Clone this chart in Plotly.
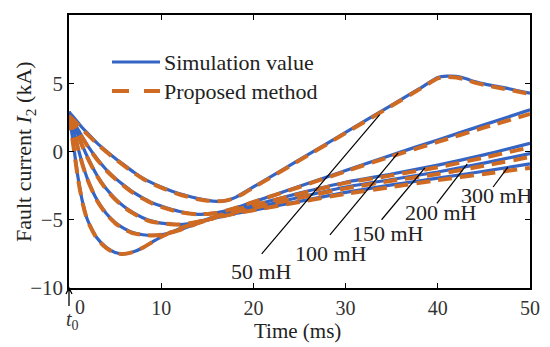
import plotly.graph_objects as go

# ---- data ----
t_common = [0, 0.5, 1, 1.5, 2, 3, 4, 5, 6, 7, 8, 9, 10, 12, 14, 16, 18, 20, 25, 30, 35, 40, 45, 50]
t_50 = [0, 0.5, 1, 1.5, 2, 3, 4, 5, 6, 7, 8, 9, 10, 12, 14, 15, 16, 17, 18, 19, 20, 25, 30, 35, 38, 40, 41, 42, 43, 44, 45, 47, 50]

sim_50 = [2.9, 2.5, 2.1, 1.7, 1.35, 0.65, 0.05, -0.5, -1.0, -1.5, -1.95, -2.3, -2.6, -3.1, -3.45, -3.58, -3.65, -3.6,
          -3.38, -3.0, -2.6, -0.6, 1.4, 3.4, 4.6, 5.42, 5.52, 5.5, 5.35, 5.12, 4.95, 4.7, 4.27]
sim_100 = [2.9, 2.2, 1.6, 1.0, 0.45, -0.5, -1.3, -1.95, -2.5, -3.0, -3.4, -3.75, -4.0, -4.4, -4.6, -4.5, -4.15, -3.7,
           -2.55, -1.4, -0.25, 0.85, 1.95, 3.05]
sim_150 = [2.9, 2.0, 1.2, 0.35, -0.4, -1.7, -2.7, -3.45, -4.05, -4.5, -4.85, -5.1, -5.25, -5.35, -5.15, -4.75, -4.3,
           -3.95, -3.05, -2.25, -1.65, -1.0, -0.25, 0.6]
sim_200 = [2.9, 1.6, 0.2, -1.0, -2.0, -3.5, -4.5, -5.2, -5.65, -5.95, -6.1, -6.15, -6.1, -5.75, -5.25, -4.8, -4.45,
           -4.15, -3.35, -2.6, -2.05, -1.5, -0.85, -0.15]
sim_300 = [2.9, 0.4, -2.0, -3.8, -5.0, -6.3, -7.0, -7.4, -7.5, -7.35, -7.05, -6.65, -6.25, -5.65, -5.2, -4.85, -4.55,
           -4.3, -3.65, -3.0, -2.45, -1.95, -1.45, -0.9]

prop_50 = [2.6, 2.3, 1.95, 1.6, 1.25, 0.6, 0.0, -0.55, -1.05, -1.55, -2.0, -2.35, -2.65, -3.15, -3.5, -3.6, -3.65,
           -3.6, -3.4, -3.05, -2.65, -0.65, 1.35, 3.35, 4.55, 5.35, 5.45, 5.42, 5.28, 5.05, 4.88, 4.62, 4.2]
prop_100 = [2.6, 2.05, 1.5, 0.95, 0.4, -0.55, -1.35, -2.0, -2.55, -3.05, -3.45, -3.8, -4.05, -4.45, -4.6, -4.5,
            -4.15, -3.7, -2.6, -1.45, -0.35, 0.7, 1.75, 2.75]
prop_150 = [2.6, 1.85, 1.1, 0.3, -0.45, -1.75, -2.75, -3.5, -4.1, -4.55, -4.9, -5.15, -5.25, -5.35, -5.15, -4.75,
            -4.3, -3.95, -3.1, -2.3, -1.75, -1.15, -0.45, 0.3]
prop_200 = [2.6, 1.5, 0.15, -1.05, -2.05, -3.55, -4.55, -5.25, -5.7, -6.0, -6.1, -6.15, -6.1, -5.75, -5.25, -4.8,
            -4.45, -4.15, -3.4, -2.7, -2.15, -1.65, -1.05, -0.4]
prop_300 = [2.6, 0.3, -2.1, -3.85, -5.05, -6.35, -7.05, -7.45, -7.5, -7.35, -7.05, -6.65, -6.25, -5.65, -5.2,
            -4.85, -4.55, -4.3, -3.7, -3.1, -2.6, -2.1, -1.65, -1.2]

labels = ["50 mH", "100 mH", "150 mH", "200 mH", "300 mH"]
legend_names = ["Simulation value", "Proposed method"]
x_ticks = [10, 20, 30, 40, 50]
y_ticks = [-10, -5, 0, 5, 10]

BLUE = "#3464C4"
ORANGE = "#CF6A22"
FONT = "Liberation Serif"
TXT = "#222"

sim_sets = [(t_50, sim_50), (t_common, sim_100), (t_common, sim_150), (t_common, sim_200), (t_common, sim_300)]
prop_sets = [(t_50, prop_50), (t_common, prop_100), (t_common, prop_150), (t_common, prop_200), (t_common, prop_300)]

fig = go.Figure()
for i, (tt, yy) in enumerate(sim_sets):
    fig.add_trace(go.Scatter(x=tt, y=yy, mode="lines", name=legend_names[0] + " " + labels[i], showlegend=False,
                             line=dict(color=BLUE, width=3.2, shape="spline", smoothing=0.6)))
for i, (tt, yy) in enumerate(prop_sets):
    fig.add_trace(go.Scatter(x=tt, y=yy, mode="lines", name=legend_names[1] + " " + labels[i], showlegend=False,
                             line=dict(color=ORANGE, width=4, dash="14px,8px", shape="spline", smoothing=0.6)))

# plot-area pixel helpers (plot area on screen: x 69..530, y 15..288)
def px_x(p):
    return (p - 69) / 461.0

def px_y(p):
    return (288 - p) / 273.0

# pointer lines (label end -> curve point) and labels
pointers = [
    ((20.9, -7.5), (33.7, 2.7), (20.9, -8.8)),
    ((28.3, -6.1), (35.7, -0.1), (28.4, -7.5)),
    ((33.9, -5.0), (38.6, -1.2), (34.6, -6.0)),
    ((39.9, -3.8), (43.2, -0.9), (40.4, -4.5)),
    ((46.0, -2.6), (47.6, -1.15), (46.4, -3.2)),
]
shapes = []
annotations = []
for lab, (p0, p1, pl) in zip(labels, pointers):
    shapes.append(dict(type="line", xref="x", yref="y", x0=p0[0], y0=p0[1], x1=p1[0], y1=p1[1],
                       line=dict(color="black", width=1.2)))
    annotations.append(dict(x=pl[0], y=pl[1], xref="x", yref="y", text=lab, showarrow=False,
                            font=dict(family=FONT, size=22, color=TXT)))

# manual legend
shapes.append(dict(type="line", xref="paper", yref="paper", x0=px_x(112), x1=px_x(160), y0=px_y(62), y1=px_y(62),
                   line=dict(color=BLUE, width=3.2)))
shapes.append(dict(type="line", xref="paper", yref="paper", x0=px_x(112), x1=px_x(129), y0=px_y(91), y1=px_y(91),
                   line=dict(color=ORANGE, width=4)))
shapes.append(dict(type="line", xref="paper", yref="paper", x0=px_x(144), x1=px_x(160), y0=px_y(91), y1=px_y(91),
                   line=dict(color=ORANGE, width=4)))
annotations.append(dict(x=px_x(162), y=px_y(62), xref="paper", yref="paper", text=legend_names[0],
                        showarrow=False, xanchor="left", yanchor="middle",
                        font=dict(family=FONT, size=22, color=TXT)))
annotations.append(dict(x=px_x(162), y=px_y(91), xref="paper", yref="paper", text=legend_names[1],
                        showarrow=False, xanchor="left", yanchor="middle",
                        font=dict(family=FONT, size=22, color=TXT)))

# axis titles
annotations.append(dict(x=px_x(297), y=px_y(331), xref="paper", yref="paper", text="Time (ms)",
                        showarrow=False, xanchor="center", yanchor="middle",
                        font=dict(family=FONT, size=21, color=TXT)))
annotations.append(dict(x=px_x(25), y=px_y(152), xref="paper", yref="paper",
                        text="Fault current <i>I</i><sub>2</sub> (kA)", textangle=-90,
                        showarrow=False, xanchor="center", yanchor="middle",
                        font=dict(family=FONT, size=22, color=TXT)))

# t0 marker: upward arrow below x = 0, the "0" tick label and the t0 label
arrow_path = "M {a},{b} L {a},{c} M {d},{e} L {a},{c} L {f},{e}".format(
    a=px_x(69), b=px_y(306), c=px_y(288), d=px_x(66), e=px_y(294), f=px_x(72))
shapes.append(dict(type="path", xref="paper", yref="paper", path=arrow_path,
                   line=dict(color="black", width=1.3)))
annotations.append(dict(x=px_x(80), y=px_y(307), xref="paper", yref="paper", text="0", showarrow=False,
                        xanchor="center", yanchor="middle",
                        font=dict(family=FONT, size=20, color="#333")))
annotations.append(dict(x=px_x(72), y=px_y(320), xref="paper", yref="paper", text="<i>t</i><sub>0</sub>",
                        showarrow=False, xanchor="center", yanchor="middle",
                        font=dict(family=FONT, size=20, color="#333")))

# the page body has an 8px default margin, so the figure is laid out 8px up/left
fig.update_layout(
    width=550, height=347,
    margin=dict(l=61, r=28, t=7, b=67, autoexpand=False),
    paper_bgcolor="white", plot_bgcolor="white",
    showlegend=False,
    shapes=shapes, annotations=annotations,
    font=dict(family=FONT, size=20, color="#333"),
)
fig.update_xaxes(range=[0, 50], tickvals=x_ticks, ticks="inside", ticklen=5, tickwidth=1.2, tickcolor="black",
                 showline=True, linecolor="black", linewidth=1.5, mirror="ticks", showgrid=False, zeroline=False,
                 automargin=False, ticklabelstandoff=1,
                 tickfont=dict(family=FONT, size=20, color="#333"))
fig.update_yaxes(range=[-10, 10], tickvals=y_ticks, ticks="inside", ticklen=5, tickwidth=1.2, tickcolor="black",
                 showline=True, linecolor="black", linewidth=1.5, mirror="ticks", showgrid=False, zeroline=False,
                 automargin=False, ticklabelstandoff=0,
                 tickfont=dict(family=FONT, size=21, color="#333"))

fig.write_html("out.html")
